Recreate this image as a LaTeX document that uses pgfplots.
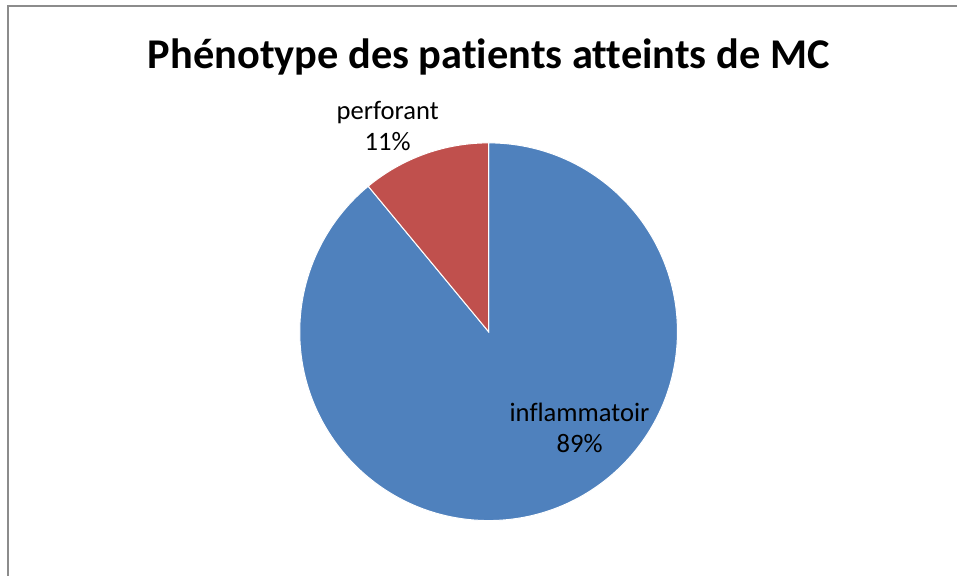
\documentclass[border=0pt]{standalone}
\usepackage{pgfplots}
\pgfplotsset{compat=1.18}
\usepackage{pgfplotstable}
\usepackage{fontspec}
\setmainfont[Ligatures={NoCommon}]{Carlito}
\definecolor{sliceblue}{HTML}{4F81BD}
\definecolor{slicered}{HTML}{C0504D}
\definecolor{framegray}{HTML}{8C8C8C}

% phenotype shares (percent)
\pgfplotstableread{
label value
inflammatoir 89
perforant 11
}\phenotypes

\begin{document}
\begin{tikzpicture}
\begin{axis}[x=0.5pt,y=0.5pt,xmin=0,xmax=958,ymin=0,ymax=576,
 hide axis,clip=false,scale only axis]
\path (axis cs:0,0) rectangle (axis cs:958,576);
\draw[framegray,line width=0.8pt] (axis cs:8,0) -- (axis cs:8,570) -- (axis cs:958,570);
\node[font=\bfseries\fontsize{21.2}{25}\selectfont] at (axis cs:489,519) {Phénotype des patients atteints de MC};

\pgfplotstablegetelem{0}{value}\of\phenotypes \let\va\pgfplotsretval
\pgfplotstablegetelem{1}{value}\of\phenotypes \let\vb\pgfplotsretval
\pgfmathsetmacro{\aend}{90-3.6*\va}
\pgfmathsetmacro{\bend}{\aend-3.6*\vb}
\fill[sliceblue,draw=white,line width=0.5pt] (axis cs:489,244) -- ++(90:94.5pt) arc[start angle=90,end angle=\aend,radius=94.5pt] -- cycle;
\fill[slicered,draw=white,line width=0.5pt] (axis cs:489,244) -- ++(\aend:94.5pt) arc[start angle=\aend,end angle=\bend,radius=94.5pt] -- cycle;

\node[align=center,font=\fontsize{13.3}{15.5}\selectfont] at (axis cs:388,450) {perforant\\11\%};
\node[align=center,font=\fontsize{13.3}{15.5}\selectfont] at (axis cs:580,148) {inflammatoir\\89\%};
\end{axis}
\end{tikzpicture}
\end{document}
